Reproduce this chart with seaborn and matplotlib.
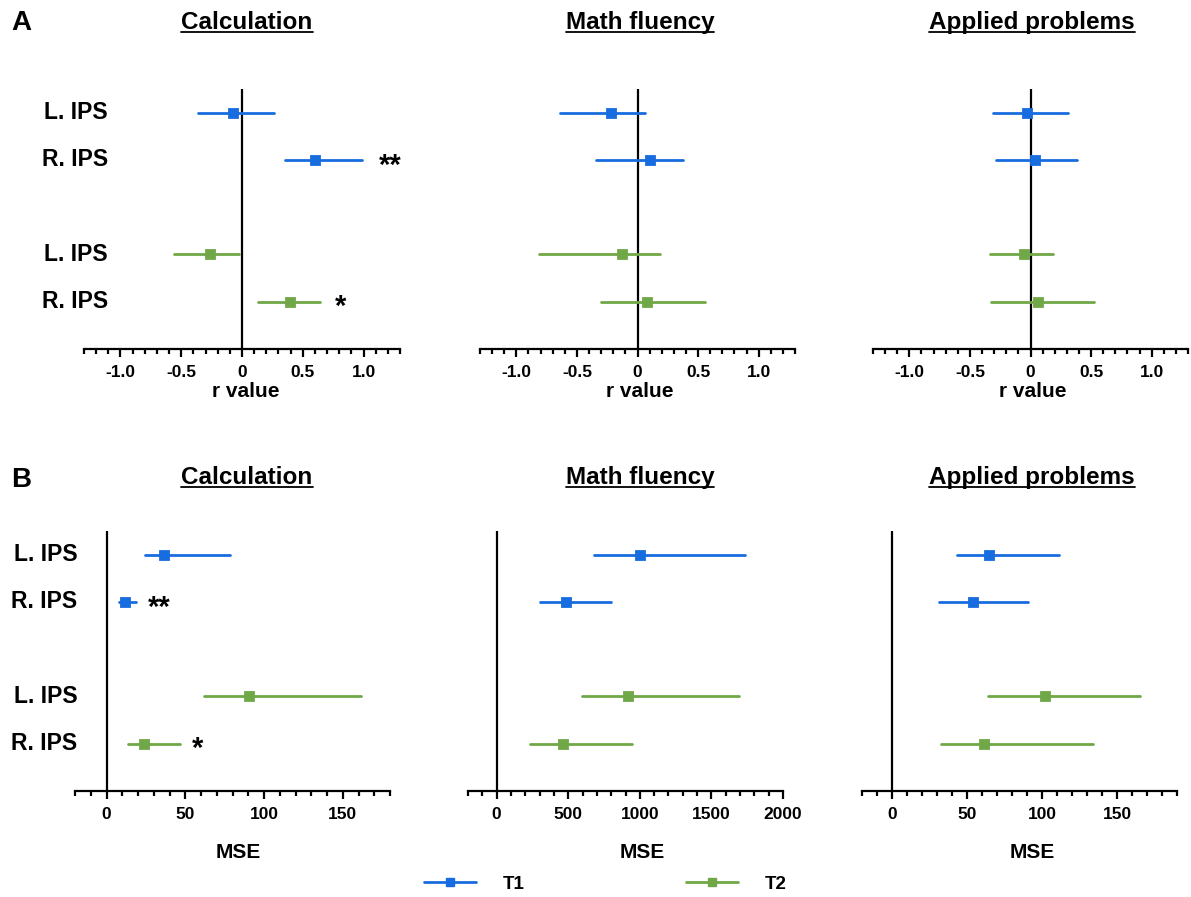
import numpy as np
import pandas as pd
import matplotlib
matplotlib.use("Agg")
import matplotlib.pyplot as plt
import seaborn as sns
from matplotlib.lines import Line2D
from matplotlib.ticker import FixedLocator
from matplotlib.transforms import blended_transform_factory

# ---------------- data ----------------
measures = ["Calculation", "Math fluency", "Applied problems"]
regions = ["L. IPS", "R. IPS", "L. IPS", "R. IPS"]
times = ["T1", "T1", "T2", "T2"]
row_pos = [0, 1, 3, 4]

# r values (rows: T1 L, T1 R, T2 L, T2 R)
r_calc_est = [-0.07, 0.60, -0.265, 0.395]
r_calc_lo = [-0.36, 0.35, -0.56, 0.13]
r_calc_hi = [0.265, 0.985, -0.025, 0.64]
r_flu_est = [-0.22, 0.107, -0.13, 0.077]
r_flu_lo = [-0.64, -0.34, -0.81, -0.30]
r_flu_hi = [0.066, 0.377, 0.187, 0.556]
r_app_est = [-0.028, 0.041, -0.055, 0.066]
r_app_lo = [-0.31, -0.284, -0.337, -0.326]
r_app_hi = [0.31, 0.387, 0.182, 0.52]

# MSE values
m_calc_est = [36.6, 11.7, 90.4, 23.8]
m_calc_lo = [24.5, 8.1, 61.7, 13.8]
m_calc_hi = [78.3, 18.7, 161.7, 46.8]
m_flu_est = [1003, 483, 915, 460]
m_flu_lo = [681, 301, 595, 231]
m_flu_hi = [1736, 798, 1692, 945]
m_app_est = [64.9, 54.0, 102.2, 61.1]
m_app_lo = [43.3, 31.5, 63.8, 32.7]
m_app_hi = [111.0, 90.7, 165.6, 134.0]

r_ticks = [-1.0, -0.5, 0, 0.5, 1.0]
r_ticklabels = ["-1.0", "-0.5", "0", "0.5", "1.0"]
mse_ticks_small = [0, 50, 100, 150]
mse_ticks_flu = [0, 500, 1000, 1500, 2000]

# significance marks: (panel index, row index, x position, label)
r_stars = [(0, 1, 1.22, "**"), (0, 4, 0.81, "*")]
m_stars = [(0, 1, 33.4, "**"), (0, 4, 57.6, "*")]

palette = {"T1": "#176ce0", "T2": "#70a848"}

# ---------------- style ----------------
sns.set_theme(style="white")
plt.rcParams["font.family"] = ["Liberation Sans", "DejaVu Sans"]
plt.rcParams["font.weight"] = "bold"
plt.rcParams["axes.labelweight"] = "bold"
plt.rcParams["text.color"] = "black"
plt.rcParams["axes.labelcolor"] = "black"
plt.rcParams["xtick.color"] = "black"
plt.rcParams["xtick.labelcolor"] = "black"

W, H = 1191, 897
fig = plt.figure(figsize=(W / 100, H / 100), dpi=100)


def make_df(est, lo, hi):
    rows = []
    for i in range(4):
        for v in (lo[i], est[i], hi[i]):
            rows.append({"pos": row_pos[i], "time": times[i], "region": regions[i], "value": v})
    return pd.DataFrame(rows)


def px_axes(left, right, top, bottom):
    return fig.add_axes([left / W, 1 - bottom / H, (right - left) / W, (bottom - top) / H])


top_boxes = [(84, 400), (480, 795), (873, 1188)]
bot_boxes = [(75, 390), (468, 783), (862, 1177)]

r_sets = [(r_calc_est, r_calc_lo, r_calc_hi), (r_flu_est, r_flu_lo, r_flu_hi), (r_app_est, r_app_lo, r_app_hi)]
m_sets = [(m_calc_est, m_calc_lo, m_calc_hi), (m_flu_est, m_flu_lo, m_flu_hi), (m_app_est, m_app_lo, m_app_hi)]
m_xlims = [(-20, 180), (-200, 2000), (-20, 190)]
m_minor = [10, 100, 10]
m_major = [mse_ticks_small, mse_ticks_flu, mse_ticks_small]
r_label_x = [0.513, 0.506, 0.507]
m_label_x = [0.517, 0.552, 0.54]


def style_axis(ax, xlim, major, minor_step, labels=None):
    ax.set_xlim(*xlim)
    ax.set_ylim(5.0, -0.5)
    for s in ("left", "top", "right"):
        ax.spines[s].set_visible(False)
    ax.spines["bottom"].set_linewidth(1.6)
    ax.spines["bottom"].set_color("black")
    ax.axvline(0, color="black", lw=1.6, zorder=1)
    n0 = int(round(xlim[0] / minor_step))
    n1 = int(round(xlim[1] / minor_step))
    minors = [round(k * minor_step, 6) for k in range(n0, n1 + 1)]
    ax.xaxis.set_major_locator(FixedLocator(major))
    ax.xaxis.set_minor_locator(FixedLocator(minors))
    if labels is not None:
        ax.set_xticklabels(labels)
    ax.tick_params(axis="x", which="major", direction="out", length=6, width=1.6,
                   color="black", labelcolor="black", labelsize=12.5, pad=5.5, bottom=True)
    ax.tick_params(axis="x", which="minor", direction="out", length=3.5, width=1.6,
                   color="black", bottom=True)
    for t in ax.get_xticklabels():
        t.set_fontweight("bold")
    ax.set_yticks([])
    ax.set_ylabel("")
    ax.set_facecolor("none")


def draw_panel(ax, est, lo, hi):
    d = make_df(est, lo, hi)
    sns.pointplot(data=d, x="value", y="pos", hue="time", orient="y", native_scale=True,
                  estimator="median", errorbar=("pi", 100), palette=palette,
                  markers="s", linestyle="none", dodge=False, legend=False,
                  markersize=5.5, err_kws={"linewidth": 2.0}, ax=ax, zorder=3)


axes_top = []
for k, (l, r) in enumerate(top_boxes):
    ax = px_axes(l, r, 89, 349)
    draw_panel(ax, *r_sets[k])
    style_axis(ax, (-1.3, 1.3), r_ticks, 0.1, r_ticklabels)
    ax.set_xlabel("r value", fontsize=15, fontweight="bold", color="black")
    ax.xaxis.set_label_coords(r_label_x[k], -0.125)
    axes_top.append(ax)

axes_bot = []
for k, (l, r) in enumerate(bot_boxes):
    ax = px_axes(l, r, 531, 791)
    draw_panel(ax, *m_sets[k])
    style_axis(ax, m_xlims[k], m_major[k], m_minor[k])
    ax.set_xlabel("MSE", fontsize=15, fontweight="bold", color="black")
    ax.xaxis.set_label_coords(m_label_x[k], -0.2)
    axes_bot.append(ax)

# region labels
for ax, xf in ((axes_top[0], 0.075), (axes_bot[0], 0.007)):
    tr = blended_transform_factory(ax.transAxes, ax.transData)
    for i in range(4):
        ax.text(xf, row_pos[i], regions[i], transform=tr, ha="right", va="center",
                fontsize=16.5, fontweight="bold", color="black")

# significance stars
for (pi_, ri, xv, lab) in r_stars:
    axes_top[pi_].text(xv, ri + 0.12, lab, ha="center", va="center", fontsize=21,
                       fontweight="bold", color="black")
for (pi_, ri, xv, lab) in m_stars:
    axes_bot[pi_].text(xv, ri + 0.12, lab, ha="center", va="center", fontsize=21,
                       fontweight="bold", color="black")

# titles
title_x = [247, 640, 1032]
titles = []
for yb in (29, 484):
    for k, m in enumerate(measures):
        t = fig.text(title_x[k] / W, 1 - yb / H, m, ha="center", va="baseline",
                     fontsize=17.5, fontweight="bold", color="black")
        titles.append((t, yb))

fig.text(11 / W, 1 - 30 / H, "A", ha="left", va="baseline", fontsize=20, fontweight="bold", color="black")
fig.text(11 / W, 1 - 487 / H, "B", ha="left", va="baseline", fontsize=20, fontweight="bold", color="black")

# legend
handles = [Line2D([], [], color=palette[t], lw=2, marker="s", markersize=5.5) for t in ("T1", "T2")]
leg = fig.legend(handles, ["T1", "T2"], loc="center", bbox_to_anchor=(605 / W, 1 - 884 / H),
                 ncol=2, frameon=False, handlelength=2.8, handletextpad=1.4, columnspacing=8.6,
                 prop={"weight": "bold", "size": 13.5})
for t in leg.get_texts():
    t.set_color("black")

# underline titles
fig.canvas.draw()
renderer = fig.canvas.get_renderer()
for t, yb in titles:
    bb = t.get_window_extent(renderer)
    yline = 1 - (yb + 3.3) / H
    fig.add_artist(Line2D([bb.x0 / W, bb.x1 / W], [yline, yline], transform=fig.transFigure,
                          color="black", lw=1.3))

fig.savefig("out.png", dpi=100)
